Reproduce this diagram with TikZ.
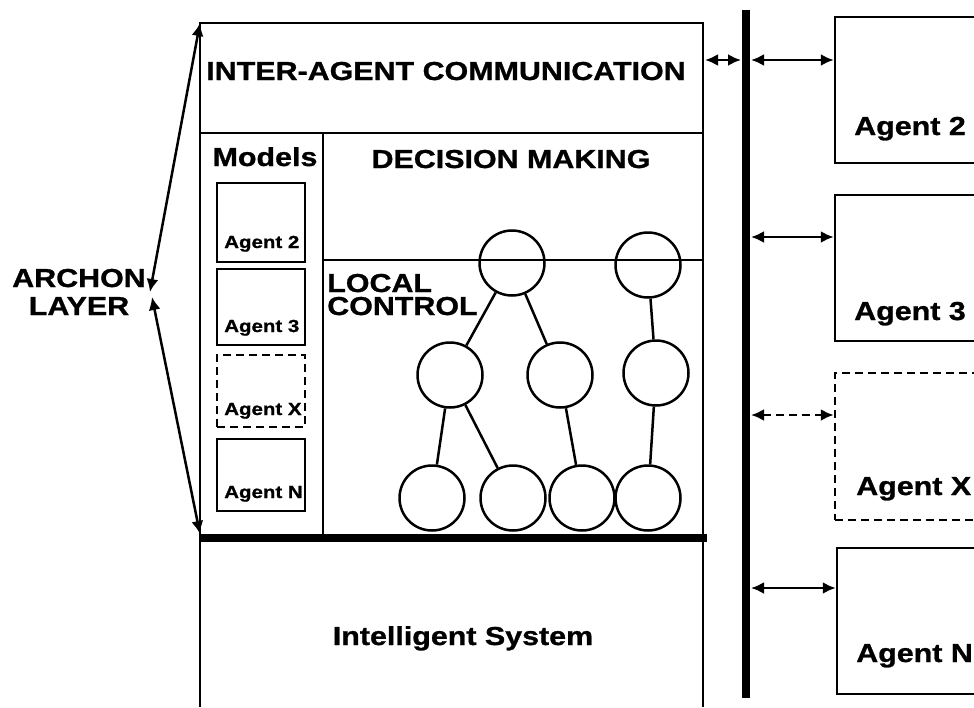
\documentclass[tikz,border=0pt]{standalone}
\usepackage{fontspec}
\setmainfont{Liberation Sans}[FakeStretch=1.17, BoldFeatures={FakeBold=1}]
\usetikzlibrary{arrows.meta}
\begin{document}
\begin{tikzpicture}[x=1pt,y=-1pt, line width=2.5pt,
  big/.style={font=\fontsize{26}{22}\selectfont\bfseries, inner sep=0pt},
  small/.style={font=\fontsize{17.5}{18}\selectfont\bfseries, inner sep=0pt},
  box/.style={draw, line width=2.5pt, inner sep=0pt},
  dbox/.style={box, dash pattern=on 8pt off 5pt},
  nd/.style={circle, draw, line width=2.5pt, minimum size=65pt, inner sep=0pt},
  dar/.style={{Latex[length=13pt,width=12pt]}-{Latex[length=13pt,width=12pt]}, line width=2.5pt},
  ddar/.style={dar, dash pattern=on 8pt off 5pt},
  heavybar/.style={line width=8pt}
]
\useasboundingbox (0,0) rectangle (974,707);
\clip (0,0) rectangle (974,707);

% main frame
\coordinate (tl) at (200,23);
\coordinate (tr) at (703,23);
\coordinate (bl) at (200,534);
\draw (200,707) -- (tl) -- (tr) -- (703,707);
\draw (200,133) -- (703,133);
\draw (323,133) -- (323,538);
\draw (323,260) -- (703,260);
\draw[heavybar] (200,538) -- (707,538);

% texts in main frame
\node[big, anchor=base] (iac) at (446,80) {INTER-AGENT COMMUNICATION};
\node[big, anchor=base] (dm) at (511,168) {DECISION MAKING};
\node[big, anchor=base west, align=left, font=\fontsize{26}{23}\selectfont\bfseries] (lc) at (326,315) {LOCAL\\CONTROL};
\node[big, anchor=base] (models) at (265,166) {Models};
\node[big, anchor=base] (is) at (463,645) {Intelligent System};
\node[big, anchor=base, align=center, font=\fontsize{26}{28}\selectfont\bfseries] (archon) at (79,315) {ARCHON\\LAYER};

% model boxes
\node[box, minimum width=88pt, minimum height=79pt] (mm2) at (261,222.5) {};
\node[box, minimum width=88pt, minimum height=76pt] (mm3) at (261,307) {};
\node[dbox, minimum width=88pt, minimum height=72pt] (mmx) at (261,391) {};
\node[box, minimum width=88pt, minimum height=72pt] (mmn) at (261,475) {};
\node[small, anchor=base west] (lm2) at (223,248) {Agent 2};
\node[small, anchor=base west] (lm3) at (223,332) {Agent 3};
\node[small, anchor=base west] (lmx) at (223,415) {Agent X};
\node[small, anchor=base west] (lmn) at (223,498) {Agent N};

% right agent boxes
\node[box, minimum width=155pt, minimum height=146pt] (a2) at (912.5,90) {};
\node[box, minimum width=155pt, minimum height=146pt] (a3) at (912.5,268) {};
\node[dbox, minimum width=155pt, minimum height=147pt] (ax) at (912.5,446.5) {};
\node[box, minimum width=153pt, minimum height=146pt] (an) at (913.5,621) {};
\node[big, anchor=base west] (la2) at (853,135) {Agent 2};
\node[big, anchor=base west] (la3) at (853,320) {Agent 3};
\node[big, anchor=base west] (lax) at (855,495) {Agent X};
\node[big, anchor=base west] (lan) at (855,662) {Agent N};

% bus
\coordinate (bt) at (746,10);
\coordinate (bb) at (746,698);
\draw[heavybar] (bt) -- (bb);

% arrows to bus
\coordinate (c0) at (705,60);
\coordinate (b0) at (741,60);
\draw[dar] (c0) -- (b0);
\coordinate (b2) at (751,60);
\coordinate (b3) at (751,237);
\coordinate (bx) at (751,415);
\coordinate (bn) at (751,588);
\draw[dar] (b2) -- (b2 -| a2.west);
\draw[dar] (b3) -- (b3 -| a3.west);
\draw[ddar] (bx) -- (bx -| ax.west);
\draw[dar] (bn) -- (bn -| an.west);

% archon arrows
\coordinate (ar1) at (150,292);
\coordinate (ar2) at (152,297);
\draw[dar] (ar1) -- (tl);
\draw[dar] (ar2) -- (bl);

% tree
\node[nd] (t1) at (512,263) {};
\node[nd] (t2) at (648,265) {};
\node[nd] (n1) at (450,375) {};
\node[nd] (n2) at (560,375) {};
\node[nd] (n3) at (656,373) {};
\node[nd] (l1) at (432,498) {};
\node[nd] (l2) at (513,498) {};
\node[nd] (l3) at (582,498) {};
\node[nd] (l4) at (648,498) {};
\draw (t1) -- (n1);
\draw (t1) -- (n2);
\draw (n1) -- (l1);
\draw (n1) -- (l2);
\draw (n2) -- (l3);
\draw (t2) -- (n3);
\draw (n3) -- (l4);
\end{tikzpicture}
\end{document}
